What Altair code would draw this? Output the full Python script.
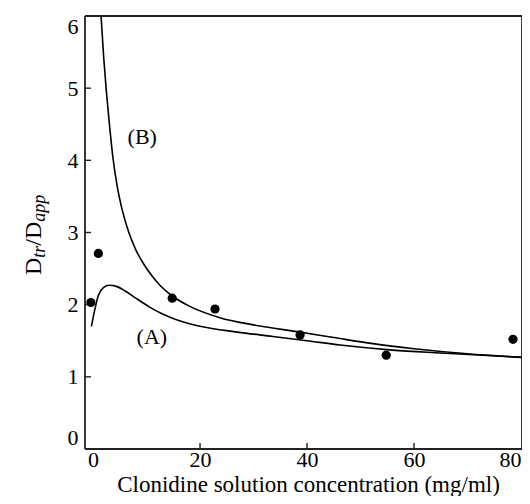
import altair as alt
import pandas as pd

# measured points
pt_x = [-0.4, 1.0, 14.8, 22.8, 38.7, 54.8, 78.5]
pt_y = [2.03, 2.71, 2.09, 1.94, 1.58, 1.30, 1.52]

# curve (A)
a_x = [-0.3, 0.3, 1.0, 2.0, 3.0, 4.5, 6.0, 8.0, 10.5, 13.0, 16.0, 20.0, 27.0, 33.6, 40.0, 46.2, 56.0, 65.0, 80.2]
a_y = [1.70, 1.92, 2.13, 2.24, 2.27, 2.25, 2.19, 2.09, 1.97, 1.87, 1.78, 1.70, 1.62, 1.56, 1.50, 1.44, 1.37, 1.33, 1.27]

# curve (B)
b_x = [1.5, 2.0, 2.5, 3.0, 3.7, 4.5, 5.5, 6.7, 8.0, 9.5, 11.0, 12.5, 14.8, 18.0, 23.7, 30.0, 38.7, 45.0, 52.3, 60.0, 70.0, 80.2]
b_y = [6.0, 5.42, 4.95, 4.55, 4.05, 3.65, 3.30, 3.00, 2.76, 2.56, 2.40, 2.27, 2.12, 1.98, 1.82, 1.72, 1.62, 1.545, 1.46, 1.39, 1.32, 1.27]

label_text = ["(B)", "(A)"]
label_x = [9.2, 11.0]
label_y = [4.33, 1.55]

x_ticks = [0, 20, 40, 60, 80]
y_ticks = [0, 1, 2, 3, 4, 5, 6]
x_inner_ticks = [20, 40, 60]
y_inner_ticks = [1, 2, 3, 4, 5]

ytitle_parts = [("D", False), ("tr", True), ("/D", False), ("app", True)]

FONT = "Liberation Serif"
EDGE = "#222222"
W, H = 437, 433
XDOM = [-1.5, 80.18]
YDOM = [0, 6]
TICK_PX = 6

pts = pd.DataFrame({"x": pt_x, "y": pt_y})
curves = pd.concat([
    pd.DataFrame({"x": a_x, "y": a_y, "curve": "A", "order": range(len(a_x))}),
    pd.DataFrame({"x": b_x, "y": b_y, "curve": "B", "order": range(len(b_x))}),
])
labels = pd.DataFrame({"t": label_text, "x": label_x, "y": label_y})

dy = TICK_PX * (YDOM[1] - YDOM[0]) / H
dx = TICK_PX * (XDOM[1] - XDOM[0]) / W

xs = alt.Scale(domain=XDOM, nice=False, zero=False)
ys = alt.Scale(domain=YDOM, nice=False, zero=False)

xax = alt.Axis(values=x_ticks, format="d", title="Clonidine solution concentration (mg/ml)",
               grid=False, domain=False, ticks=False, labelFont=FONT, labelFontSize=22,
               labelColor="black", labelPadding=0, labelFlush=6,
               titleFont=FONT, titleFontSize=23, titleFontWeight="normal", titleColor="black",
               titleBaseline="alphabetic", titleY=42, titleX=223)
yax = alt.Axis(values=y_ticks, format="d", title=None, grid=False, domain=False, ticks=False,
               labelFont=FONT, labelFontSize=22, labelColor="black", labelPadding=7,
               labelFlush=True)

lines = alt.Chart(curves).mark_line(color="black", strokeWidth=1.6, interpolate="monotone").encode(
    x=alt.X("x:Q", scale=xs, axis=xax),
    y=alt.Y("y:Q", scale=ys, axis=yax),
    detail="curve:N",
    order="order:Q",
)

# frame edges
h_edges = alt.Chart(pd.DataFrame({"y": YDOM})).mark_rule(color=EDGE, strokeWidth=1.8).encode(
    y=alt.Y("y:Q", scale=ys),
)
v_edges = alt.Chart(pd.DataFrame({"x": XDOM})).mark_rule(color=EDGE, strokeWidth=1.8).encode(
    x=alt.X("x:Q", scale=xs),
)

# inward ticks
xt = alt.Chart(pd.DataFrame({"x": x_inner_ticks, "y0": [YDOM[0]] * len(x_inner_ticks),
                             "y1": [YDOM[0] + dy] * len(x_inner_ticks)})).mark_rule(
    color=EDGE, strokeWidth=1.4).encode(
    x=alt.X("x:Q", scale=xs),
    y=alt.Y("y0:Q", scale=ys),
    y2="y1:Q",
)
yt = alt.Chart(pd.DataFrame({"y": y_inner_ticks, "x0": [XDOM[0]] * len(y_inner_ticks),
                             "x1": [XDOM[0] + dx] * len(y_inner_ticks)})).mark_rule(
    color=EDGE, strokeWidth=1.4).encode(
    y=alt.Y("y:Q", scale=ys),
    x=alt.X("x0:Q", scale=xs),
    x2="x1:Q",
)

dots = alt.Chart(pts).mark_circle(color="black", opacity=1, size=85).encode(
    x=alt.X("x:Q", scale=xs),
    y=alt.Y("y:Q", scale=ys),
)

texts = alt.Chart(labels).mark_text(font=FONT, fontSize=22, color="black").encode(
    x=alt.X("x:Q", scale=xs),
    y=alt.Y("y:Q", scale=ys),
    text="t:N",
)

main_size, sub_size = 24, 18
widths = {"D": 0.722, "tr": 0.667, "/D": 1.0, "app": 1.5}
title_layers = []
pos = 259.0
for txt, ital in ytitle_parts:
    size = sub_size if ital else main_size
    xpos = -40 if ital else -44
    title_layers.append(
        alt.Chart(pd.DataFrame({"t": [txt]})).mark_text(
            font=FONT, fontSize=size, fontStyle="italic" if ital else "normal",
            color="black", angle=270, align="left", baseline="alphabetic",
        ).encode(text="t:N", x=alt.value(xpos), y=alt.value(pos))
    )
    pos -= widths[txt] * size

chart = alt.layer(lines, h_edges, v_edges, xt, yt, dots, texts, *title_layers).properties(
    width=W, height=H,
    background="white",
    autosize=alt.AutoSizeParams(type="none"),
    padding={"left": 77, "top": 8, "right": 0, "bottom": 47},
).configure_view(strokeWidth=0)

chart.save("out.html", embed_options={"renderer": "svg", "actions": False})
